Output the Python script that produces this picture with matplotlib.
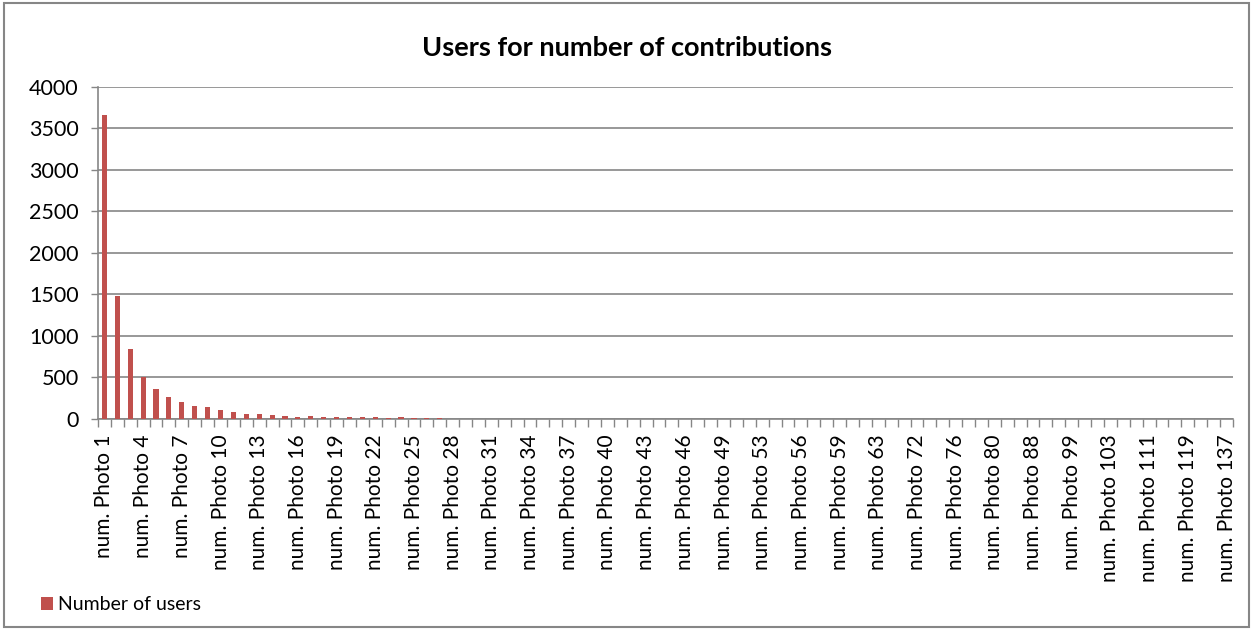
import matplotlib.pyplot as plt
import numpy as np
from matplotlib.patches import Rectangle

plt.rcParams['font.family'] = ['Lato', 'DejaVu Sans']

# number of photos contributed per user (category) and how many users made that many
photo_counts = list(range(1, 52)) + [53, 54, 55, 56, 57, 58, 59, 60, 61, 63, 65, 68,
                                     72, 73, 75, 76, 77, 79, 80, 82, 85, 88, 92, 95,
                                     99, 100, 101, 103, 105, 108, 111, 113, 116, 119,
                                     124, 130, 137]
num_users = [3660, 1485, 838, 502, 357, 269, 200, 150, 140, 110, 80, 65, 57, 44, 32, 20,
             32, 24, 20, 20, 24, 20, 12, 20, 12, 8, 6, 5, 4, 4, 3, 3,
             3, 2, 3, 2, 2, 1, 2, 2, 1, 2, 1, 1, 2, 1, 1, 1, 1, 1, 2, 1,
             1, 1, 1, 1, 1, 1, 1, 1, 1, 1, 1, 1, 1, 1, 1, 1, 1, 1, 1, 1,
             1, 1, 1, 1, 1, 1, 1, 1, 1, 1, 1, 1, 1, 1, 1, 1]
categories = [f'num. Photo {n}' for n in photo_counts]

grey = '#868686'
bar_color = '#C0504D'

fig = plt.figure(figsize=(12.53, 6.30), dpi=100)
ax = fig.add_axes([0.0782, 0.335, 0.9058, 0.527])

x = np.arange(len(categories))
ax.bar(x, num_users, width=0.4, color=bar_color, label='Number of users', zorder=3)

ax.set_xlim(-0.5, len(categories) - 0.5)
ax.set_ylim(0, 4000)
ax.set_yticks(np.arange(0, 4001, 500))
ax.yaxis.grid(True, color=grey, linewidth=1.2, zorder=0)
ax.tick_params(axis='y', labelsize=15.5, length=5, color=grey, width=1, pad=9)

# labels for every third category, tick marks between all categories
ax.set_xticks(x[::3])
ax.set_xticklabels(categories[::3], rotation=90, fontsize=15)
ax.set_xticks(np.arange(-0.5, len(categories)), minor=True)
ax.tick_params(axis='x', which='major', length=0, pad=11)
ax.tick_params(axis='x', which='minor', length=6, color=grey, width=1)

for side in ['top', 'right']:
    ax.spines[side].set_visible(False)
for side in ['left', 'bottom']:
    ax.spines[side].set_color(grey)
    ax.spines[side].set_linewidth(1.2)

fig.text(0.5, 0.924, 'Users for number of contributions', ha='center', va='center',
         fontsize=19.5, fontweight='bold')

fig.legend(loc='lower left', bbox_to_anchor=(0.022, 0.005), frameon=False,
           fontsize=14, handlelength=0.6, handleheight=0.6, handletextpad=0.25,
           borderpad=0.2)

fig.patches.append(Rectangle((0.003, 0.004), 0.994, 0.992, transform=fig.transFigure,
                             fill=False, edgecolor=grey, linewidth=1.5))

fig.savefig('out.png', dpi=100)
